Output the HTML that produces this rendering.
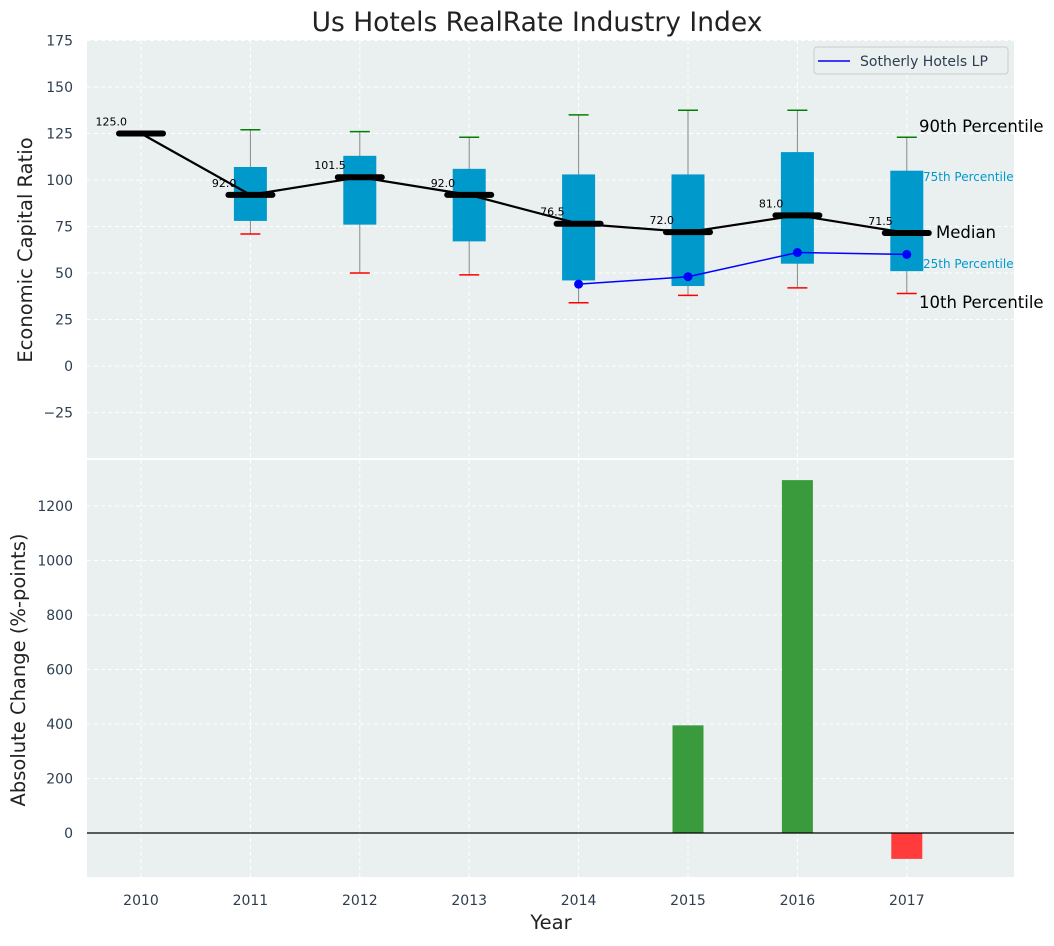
<!DOCTYPE html>
<html><head><meta charset="utf-8"><style>
body{margin:0;background:#fff;font-family:"DejaVu Sans","Liberation Sans",sans-serif}
</style></head><body>
<svg id="c" width="1054" height="942" xmlns="http://www.w3.org/2000/svg" font-family="DejaVu Sans, Liberation Sans, sans-serif"></svg>
<script>
const years=[2010,2011,2012,2013,2014,2015,2016,2017];
const medians=[125,92,101.5,92,76.5,72,81,71.5];
const q1=[null,78,76,67,46,43,55,51];
const q3=[null,107,113,106,103,103,115,105];
const p10=[null,71,50,49,34,38,42,39];
const p90=[null,127,126,123,135,137.5,137.5,123];
const sothYears=[2014,2015,2016,2017];
const sothVals=[44,48,61,60];
const changeYears=[2015,2016,2017];
const changeVals=[395,1295,-95];
const topTicks=[-25,0,25,50,75,100,125,150,175];
const botTicks=[0,200,400,600,800,1000,1200];

const NS='http://www.w3.org/2000/svg';
const svg=document.getElementById('c');
function el(t,a,p){const e=document.createElementNS(NS,t);for(const k in a)e.setAttribute(k,a[k]);(p||svg).appendChild(e);return e;}
const L=87,R=1014;
const X=y=>141+(y-2010)*109.4;
const T0=40,T1=458,B0=460,B1=877;
const Yt=v=>366-v*(46.5/25);
const Yb=v=>833-v*(54.5/200);

let r=el('rect',{x:L,y:T0,width:R-L,height:T1-T0,fill:'#eaeff0'});

r=el('rect',{x:L,y:B0,width:R-L,height:B1-B0,fill:'#eaeff0'});


years.forEach(y=>{
  el('line',{x1:X(y),x2:X(y),y1:T0,y2:T1,stroke:'#fff','stroke-dasharray':'4,3','stroke-width':1});
  el('line',{x1:X(y),x2:X(y),y1:B0,y2:B1,stroke:'#fff','stroke-dasharray':'4,3','stroke-width':1});
  const t=el('text',{x:X(y),y:905,'text-anchor':'middle','font-size':14,fill:'#2d3e50'});t.textContent=y;
  
});
topTicks.forEach(v=>{
  el('line',{x1:L,x2:R,y1:Yt(v),y2:Yt(v),stroke:'#fff','stroke-dasharray':'4,3'});
  const t=el('text',{x:73,y:Yt(v)+5,'text-anchor':'end','font-size':14,fill:'#2d3e50'});t.textContent=v<0?'\u2212'+(-v):v;
  
});
botTicks.forEach(v=>{
  el('line',{x1:L,x2:R,y1:Yb(v),y2:Yb(v),stroke:'#fff','stroke-dasharray':'4,3'});
  const t=el('text',{x:73,y:Yb(v)+5,'text-anchor':'end','font-size':14,fill:'#2d3e50'});t.textContent=v;
  
});

years.forEach((y,i)=>{
  const x=X(y);
  if(q1[i]!==null){
    let e=el('line',{x1:x,x2:x,y1:Yt(p90[i]),y2:Yt(p10[i]),stroke:'#888','stroke-width':1});
    
    e=el('rect',{x:x-16.5,y:Yt(q3[i]),width:33,height:Yt(q1[i])-Yt(q3[i]),fill:'#0099cc'});
    
    e=el('line',{x1:x-10,x2:x+10,y1:Yt(p90[i]),y2:Yt(p90[i]),stroke:'green','stroke-width':1.5});
    
    e=el('line',{x1:x-10,x2:x+10,y1:Yt(p10[i]),y2:Yt(p10[i]),stroke:'red','stroke-width':1.5});
    
  }
});
let pl=el('polyline',{points:years.map((y,i)=>X(y)+','+Yt(medians[i])).join(' '),fill:'none',stroke:'#000','stroke-width':2.2});

years.forEach((y,i)=>{
  const x=X(y);
  let e=el('line',{x1:x-22,x2:x+22,y1:Yt(medians[i]),y2:Yt(medians[i]),stroke:'#000','stroke-width':6,'stroke-linecap':'round'});
  
  const t=el('text',{x:x-14,y:Yt(medians[i])-8,'text-anchor':'end','font-size':11,fill:'#000'});t.textContent=medians[i].toFixed(1);
  
});
pl=el('polyline',{points:sothYears.map((y,i)=>X(y)+','+Yt(sothVals[i])).join(' '),fill:'none',stroke:'blue','stroke-width':1.5});

sothYears.forEach((y,i)=>{const c=el('circle',{cx:X(y),cy:Yt(sothVals[i]),r:4.5,fill:'blue'});
  });

const ann=[['90th Percentile',919,132,16.5,'#000'],['75th Percentile',923,181,12,'#0099cc'],['Median',936,238,16.5,'#000'],['25th Percentile',923,268,12,'#0099cc'],['10th Percentile',919,308,16.5,'#000']];
ann.forEach(a=>{const t=el('text',{x:a[1],y:a[2],'font-size':a[3],fill:a[4]});t.textContent=a[0];
  });

const lg=el('g',{});
el('rect',{x:814,y:47,width:194,height:27,fill:'#eaeff0',stroke:'#ccc',rx:3},lg);
el('line',{x1:818,x2:850,y1:61,y2:61,stroke:'blue','stroke-width':1.5},lg);
let t=el('text',{x:860,y:66,'font-size':14,fill:'#2d3e50'},lg);t.textContent='Sotherly Hotels LP';

changeYears.forEach((y,i)=>{
  const v=changeVals[i],y0=Yb(0),y1=Yb(v);
  const b=el('rect',{x:X(y)-15.5,y:Math.min(y0,y1),width:31,height:Math.abs(y1-y0),fill:v>=0?'#3a9b3d':'#ff3b3b'});
  
});
let z=el('line',{x1:L,x2:R,y1:Yb(0),y2:Yb(0),stroke:'#000','stroke-width':1.2});


t=el('text',{x:537,y:31,'text-anchor':'middle','font-size':26.5,fill:'#222'});t.textContent='Us Hotels RealRate Industry Index';

t=el('text',{x:0,y:0,'text-anchor':'middle','font-size':19.5,fill:'#222',transform:'translate(32,250) rotate(-90)'});t.textContent='Economic Capital Ratio';

t=el('text',{x:0,y:0,'text-anchor':'middle','font-size':19.5,fill:'#222',transform:'translate(25,670) rotate(-90)'});t.textContent='Absolute Change (%-points)';

t=el('text',{x:551,y:929,'text-anchor':'middle','font-size':19.5,fill:'#222'});t.textContent='Year';

</script>
</body></html>
